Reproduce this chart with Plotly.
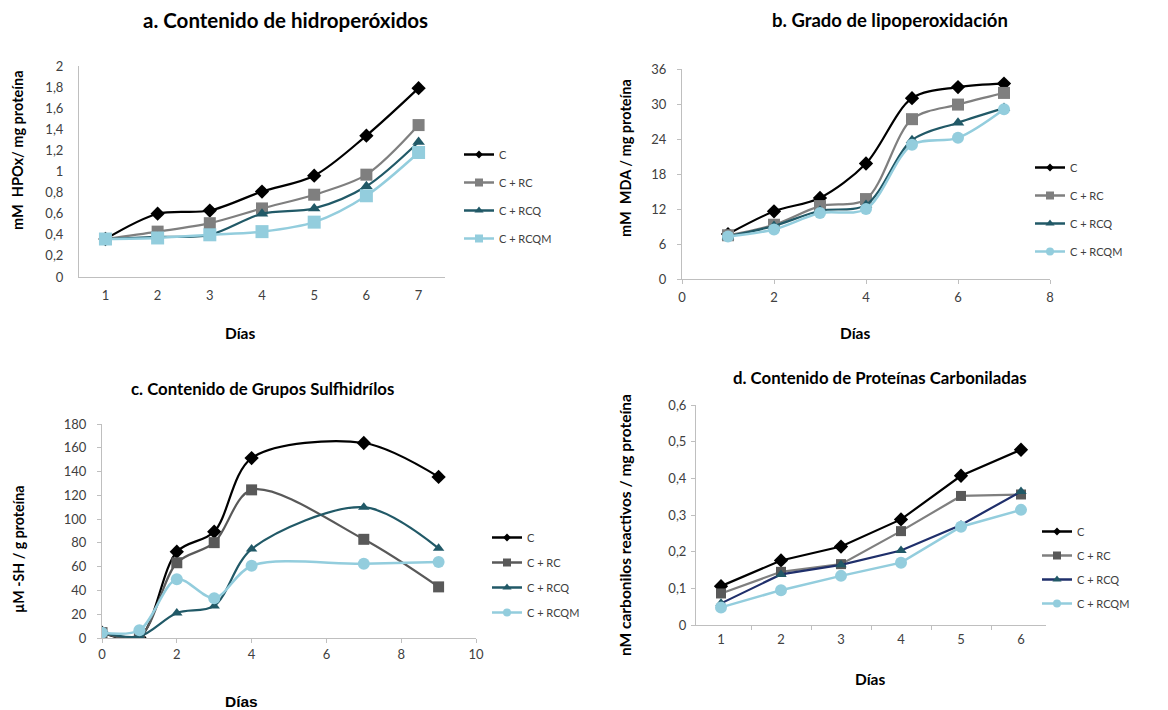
import plotly.graph_objects as go

W, H = 1168, 710
series_names = ["C", "C + RC", "C + RCQ", "C + RCQM"]

# Panel a: hydroperoxides
dias_a = ["1", "2", "3", "4", "5", "6", "7"]
a_C = [0.36, 0.60, 0.63, 0.81, 0.96, 1.34, 1.79]
a_RC = [0.36, 0.43, 0.51, 0.65, 0.78, 0.97, 1.44]
a_RCQ = [0.36, 0.38, 0.40, 0.60, 0.65, 0.86, 1.28]
a_RCQM = [0.36, 0.37, 0.40, 0.43, 0.52, 0.77, 1.18]

# Panel b: lipoperoxidation
dias_b = [1, 2, 3, 4, 5, 6, 7]
b_C = [7.7, 11.6, 13.9, 19.8, 31.0, 32.9, 33.5]
b_RC = [7.5, 9.3, 12.5, 13.7, 27.4, 29.9, 31.9]
b_RCQ = [7.3, 9.1, 11.7, 12.7, 23.8, 26.8, 29.3]
b_RCQM = [7.3, 8.5, 11.3, 12.0, 23.0, 24.2, 29.1]

# Panel c: sulfhydryl groups
dias_c = [0, 1, 2, 3, 4, 7, 9]
c_C = [4.5, 0.5, 72.6, 89.4, 151.3, 164.0, 135.5]
c_RC = [4.5, 1.0, 63.3, 80.2, 124.6, 83.0, 43.0]
c_RCQ = [4.5, 1.4, 21.1, 27.0, 74.8, 110.0, 75.4]
c_RCQM = [4.5, 6.5, 49.5, 33.5, 60.8, 62.4, 64.0]

# Panel d: carbonylated proteins
dias_d = ["1", "2", "3", "4", "5", "6"]
d_C = [0.106, 0.176, 0.214, 0.288, 0.407, 0.478]
d_RC = [0.086, 0.145, 0.166, 0.256, 0.352, 0.356]
d_RCQ = [0.059, 0.138, 0.164, 0.203, 0.273, 0.364]
d_RCQM = [0.048, 0.095, 0.134, 0.170, 0.268, 0.314]

titles = ["a. Contenido de hidroperóxidos", "b. Grado de lipoperoxidación",
          "c. Contenido de Grupos Sulfhidrílos", "d. Contenido de Proteínas Carboniladas"]
ytitles = ["mM  HPOx/ mg proteína", "mM  MDA / mg proteína",
           "µM -SH / g proteína", "nM carbonilos reactivos / mg proteína"]

BLACK = "#000000"
GRAY = "#7F7F7F"
DGRAY = "#595959"
TEAL = "#215967"
NAVY = "#1F2F6B"
LBLUE = "#93CDDD"
AXC = "#BFBFBF"
FONT = "Lato"

fig = go.Figure()

def px_x(p):
    return p / W

def px_y(p):
    return 1 - p / H

panels = [
    dict(x=dias_a, ys=[a_C, a_RC, a_RCQ, a_RCQM], shape="spline",
         colors=[BLACK, GRAY, TEAL, LBLUE], mcolors=[BLACK, GRAY, TEAL, LBLUE],
         symbols=["diamond", "square", "triangle-up", "square"], sizes=[11, 12, 11, 13],
         xa="x", ya="y", leg="legend"),
    dict(x=dias_b, ys=[b_C, b_RC, b_RCQ, b_RCQM], shape="spline",
         colors=[BLACK, GRAY, TEAL, LBLUE], mcolors=[BLACK, GRAY, TEAL, LBLUE],
         symbols=["diamond", "square", "triangle-up", "circle"], sizes=[11, 12, 11, 12],
         xa="x2", ya="y2", leg="legend2"),
    dict(x=dias_c, ys=[c_C, c_RC, c_RCQ, c_RCQM], shape="spline",
         colors=[BLACK, DGRAY, TEAL, LBLUE], mcolors=[BLACK, DGRAY, TEAL, LBLUE],
         symbols=["diamond", "square", "triangle-up", "circle"], sizes=[11, 11, 10, 12],
         xa="x3", ya="y3", leg="legend3"),
    dict(x=dias_d, ys=[d_C, d_RC, d_RCQ, d_RCQM], shape="linear",
         colors=[BLACK, GRAY, NAVY, LBLUE], mcolors=[BLACK, DGRAY, TEAL, LBLUE],
         symbols=["diamond", "square", "triangle-up", "circle"], sizes=[11, 10, 10, 12],
         xa="x4", ya="y4", leg="legend4"),
]

widths = [2.2, 2.2, 2.2, 2.5]
leg_sizes = [6, 8, 8, 8]
for p in panels:
    for i, name in enumerate(series_names):
        fig.add_trace(go.Scatter(
            x=p["x"], y=p["ys"][i], name=name, mode="lines+markers",
            line=dict(color=p["colors"][i], width=widths[i], shape=p["shape"], smoothing=0.9),
            marker=dict(symbol=p["symbols"][i], size=p["sizes"][i], color=p["mcolors"][i]),
            xaxis=p["xa"], yaxis=p["ya"], showlegend=False,
        ))
    # legend-only entries with small markers (as in the original)
    for i, name in enumerate(series_names):
        fig.add_trace(go.Scatter(
            x=[None], y=[None], name=name, mode="lines+markers",
            line=dict(color=p["colors"][i], width=2.5),
            marker=dict(symbol=p["symbols"][i], size=leg_sizes[i], color=p["mcolors"][i]),
            xaxis=p["xa"], yaxis=p["ya"], legend=p["leg"], legendgroup=p["leg"] + name,
            hoverinfo="skip",
        ))

tickfont = dict(family=FONT, size=13, color="#404040")
common_axis = dict(showgrid=False, zeroline=False, showline=True, linecolor=AXC, linewidth=1,
                   tickfont=tickfont, ticklen=4, tickcolor=AXC, automargin=False)

layout = dict(
    width=W, height=H, margin=dict(l=0, r=0, t=0, b=0, autoexpand=False),
    paper_bgcolor="white", plot_bgcolor="white", font=dict(family=FONT),
    xaxis=dict(domain=[px_x(79), px_x(445)], anchor="y", type="category", ticks="",
               ticklabelstandoff=6, **common_axis),
    yaxis=dict(domain=[px_y(277), px_y(66)], anchor="x", range=[0, 2], dtick=0.2,
               ticks="", ticklabelstandoff=12, **common_axis),
    xaxis2=dict(domain=[px_x(682), px_x(1050)], anchor="y2", range=[0, 8], dtick=2,
                ticks="outside", ticklabelstandoff=2, **common_axis),
    yaxis2=dict(domain=[px_y(279), px_y(69)], anchor="x2", range=[0, 36], dtick=6,
                ticks="outside", ticklabelstandoff=8, **common_axis),
    xaxis3=dict(domain=[px_x(102), px_x(476)], anchor="y3", range=[0, 10], dtick=2,
                ticks="outside", **common_axis),
    yaxis3=dict(domain=[px_y(638), px_y(424)], anchor="x3", range=[0, 180], dtick=20,
                ticks="outside", ticklabelstandoff=8, **common_axis),
    xaxis4=dict(domain=[px_x(696), px_x(1046)], anchor="y4", type="category",
                ticks="outside", tickson="boundaries", ticklabelstandoff=2, **common_axis),
    yaxis4=dict(domain=[px_y(625), px_y(405)], anchor="x4", range=[0, 0.6], dtick=0.1,
                ticks="outside", ticklabelstandoff=2, **common_axis),
    separators=",.",
)

legend_cfg = {"legend": (459, 140, 9), "legend2": (1030, 153, 9),
              "legend3": (487, 523, 6), "legend4": (1037, 517, 5)}
for key, (lx, ly, gap) in legend_cfg.items():
    layout[key] = dict(x=px_x(lx), y=px_y(ly), xanchor="left", yanchor="top",
                       font=dict(family=FONT, size=11, color="#404040"),
                       bgcolor="rgba(0,0,0,0)", tracegroupgap=gap, itemsizing="trace",
                       itemwidth=30)

fig.update_layout(**layout)

ann = []
title_pos = [(285, 20, 20.5), (890, 20, 18.5), (262, 388, 16.8), (880, 378, 16.8)]
for t, (x, y, s) in zip(titles, title_pos):
    ann.append(dict(text="<b>" + t + "</b>", x=px_x(x), y=px_y(y), xref="paper", yref="paper",
                    showarrow=False, font=dict(family=FONT, size=s, color="#000000"),
                    xanchor="center", yanchor="middle"))
ytitle_pos = [(18, 150, 14.5), (625, 158, 14.5), (18, 550, 14.2), (625, 525, 15.5)]
for t, (x, y, s) in zip(ytitles, ytitle_pos):
    ann.append(dict(text="<b>" + t + "</b>", x=px_x(x), y=px_y(y), xref="paper", yref="paper",
                    showarrow=False, textangle=-90, font=dict(family=FONT, size=s, color="#000000"),
                    xanchor="center", yanchor="middle"))
xtitle_pos = [(240, 333, FONT), (855, 333, FONT), (241, 701, "Liberation Sans"), (870, 679, FONT)]
for x, y, f in xtitle_pos:
    ann.append(dict(text="<b>Días</b>", x=px_x(x), y=px_y(y), xref="paper", yref="paper",
                    showarrow=False, font=dict(family=f, size=15.5, color="#000000"),
                    xanchor="center", yanchor="middle"))
fig.update_layout(annotations=ann)

fig.write_html("out.html", config={"displayModeBar": False},
               post_script="document.body.style.margin='0';")
